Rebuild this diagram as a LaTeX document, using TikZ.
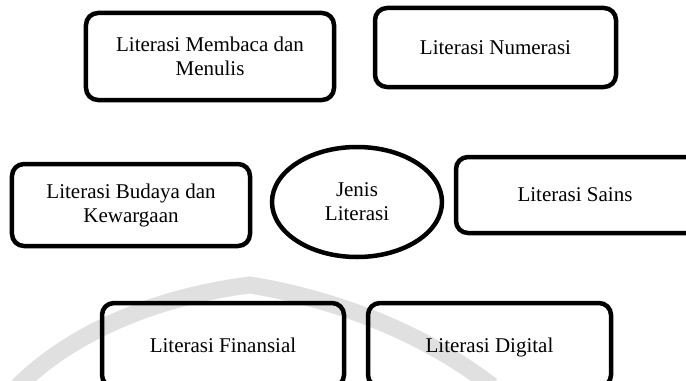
\documentclass[tikz,border=0pt]{standalone}
\usepackage{fontspec}
\setmainfont{Liberation Serif}
\usetikzlibrary{shapes.geometric}
\begin{document}
\begin{tikzpicture}[x=1bp,y=1bp,
  every node/.style={font=\fontsize{21bp}{24bp}\selectfont,align=center},
  litbox/.style={draw,line width=4.5bp,rounded corners=12bp,inner sep=0pt},
  pusat/.style={draw,ellipse,line width=4.5bp,inner sep=0pt,minimum width=170bp,minimum height=110bp}]
  \useasboundingbox (0,0) rectangle (686,380);
  \clip (0,0) rectangle (686,380);
  % faint watermark behind the boxes
  \draw[line width=17bp,black!12] (18,-6) .. controls (80,55) and (170,85) .. (250,95)
    .. controls (330,82) and (420,50) .. (492,-6);
  % top row
  \node[litbox,minimum width=248bp,minimum height=87bp] (membaca) at (210,323.5) {Literasi Membaca dan\\Menulis};
  \node[litbox,minimum width=241bp,minimum height=79bp] (numerasi) at (495.5,332.5) {Literasi Numerasi};
  % middle row
  \node[litbox,minimum width=238bp,minimum height=82bp] (budaya) at (131,175) {Literasi Budaya dan\\Kewargaan};
  \node[pusat] (jenis) at (357,178) {Jenis\\Literasi};
  \node[litbox,minimum width=262bp,minimum height=76bp] (sains) at (587,185) {Literasi Sains\hspace*{24bp}};
  % bottom row
  \node[litbox,minimum width=242bp,minimum height=84bp] (finansial) at (223,35) {Literasi Finansial};
  \node[litbox,minimum width=243bp,minimum height=84bp,text depth=0pt] (digital) at (489.5,35) {Literasi Digital};
\end{tikzpicture}
\end{document}
